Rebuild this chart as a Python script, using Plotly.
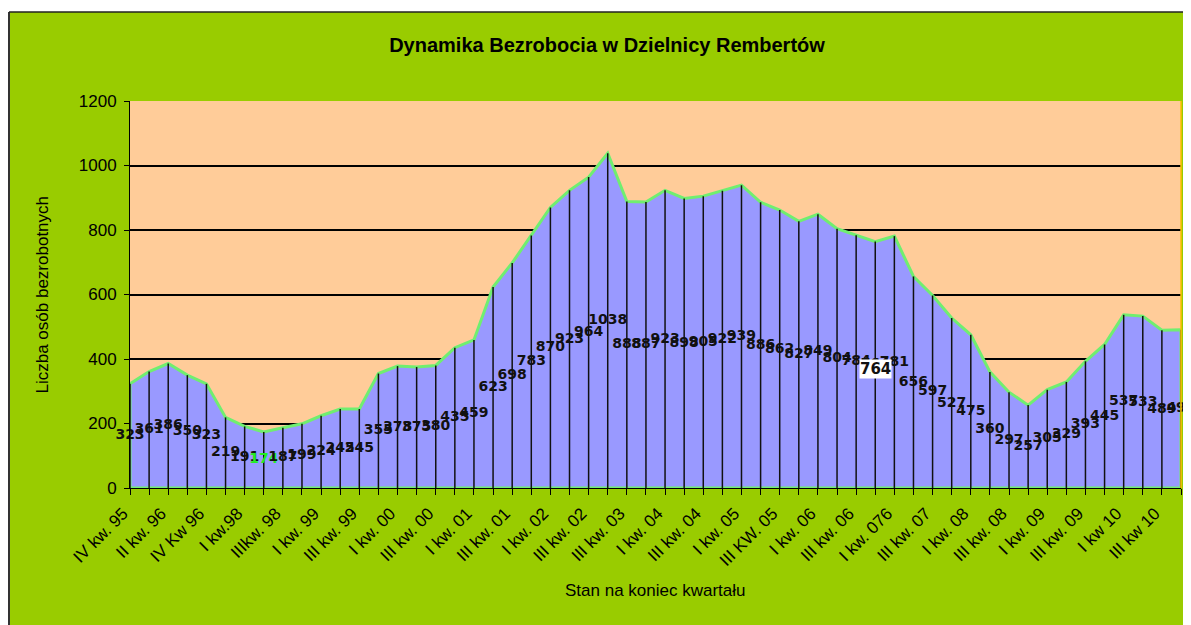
import plotly.graph_objects as go

# ---- data ----
categories = [
    "IV kw. 95", "I kw. 96", "II kw. 96", "III kw. 96", "IV Kw 96", "IV kw. 97",
    "I kw.98", "II kw. 98", "IIIkw. 98", "IV kw. 98", "I kw. 99", "II kw. 99",
    "III kw. 99", "IV kw. 99", "I kw. 00", "II kw. 00", "III kw. 00", "IV kw. 00",
    "I kw. 01", "II kw. 01", "III kw. 01", "IV kw. 01", "I kw. 02", "II kw. 02",
    "III kw. 02", "I kw. 03", "III kw. 03", "IV kw. 03", "I kw. 04", "II kw. 04",
    "III kw. 04", "IV kw. 04", "I kw. 05", "II kw. 05", "III KW. 05", "IV kw. 05",
    "I kw. 06", "II kw. 06", "III kw. 06", "IV kw. 06", "I kw. 076", "II kw. 07",
    "III kw. 07", "IV kw. 07", "I kw. 08", "II kw. 08", "III kw. 08", "IV kw. 08",
    "I kw. 09", "II kw. 09", "III kw. 09", "IV kw. 09", "I kw 10", "II kw 10",
    "III kw 10", "IV kw 10",
]
values = [
    323, 361, 386, 350, 323, 219, 191, 174, 187, 199, 224, 245, 245, 355,
    378, 375, 380, 435, 459, 623, 698, 783, 870, 923, 964, 1038, 888, 887,
    923, 898, 905, 922, 939, 886, 862, 827, 849, 804, 784, 764, 781, 656,
    597, 527, 475, 360, 297, 257, 305, 329, 393, 445, 537, 533, 489, 491,
]
y_ticks = [0, 200, 400, 600, 800, 1000, 1200]
green_label = "174"
boxed_label = "764"

title_text = "Dynamika Bezrobocia w Dzielnicy Rembertów"
x_title = "Stan na koniec kwartału"
y_title = "Liczba osób bezrobotnych"

# ---- geometry (page has an 8px body margin) ----
OFF = 8
W, H = 1191 - OFF, 625 - OFF
L = 130 - OFF
T = 101 - OFF
R = W - (1181 - OFF)
B = H - (488 - OFF)
pw, ph = W - L - R, H - T - B

def px_x(px):  # px in screenshot coords
    return (px - OFF - L) / pw

def px_y(py):
    return (H - B - (py - OFF)) / ph

n = len(values)
xs = list(range(n))

fig = go.Figure()

# area polygon (closed so the border runs all around)
fig.add_trace(go.Scatter(
    x=xs + [xs[-1], xs[0], xs[0]],
    y=values + [0, 0, values[0]],
    mode="lines",
    fill="toself",
    fillcolor="#9999FF",
    line=dict(color="#70EE70", width=3),
    hoverinfo="skip",
    showlegend=False,
))

# drop lines
fig.add_trace(go.Scatter(
    x=xs, y=values, mode="markers",
    marker=dict(size=1, color="rgba(0,0,0,0)"),
    error_y=dict(type="data", symmetric=False, array=[0] * n,
                 arrayminus=values, width=0, thickness=1.5, color="#111111"),
    hoverinfo="skip", showlegend=False,
))

# data labels
label_colors = ["#22EE22" if str(v) == green_label else "#111111" for v in values]
fig.add_trace(go.Scatter(
    x=xs, y=[v / 2 for v in values], mode="text",
    text=[str(v) for v in values],
    textposition="middle center",
    textfont=dict(family="DejaVu Sans", size=14, color=label_colors, weight="bold"),
    cliponaxis=False, hoverinfo="skip", showlegend=False,
))

annotations = []
for i, v in enumerate(values):
    if str(v) == boxed_label:
        annotations.append(dict(
            x=i, y=v / 2, xref="x", yref="y", text=str(v), showarrow=False,
            bgcolor="white", borderpad=0, yshift=-4,
            font=dict(family="DejaVu Sans", size=15, color="#111111", weight="bold"),
        ))

annotations.append(dict(
    x=0.5, y=px_y(590), xref="paper", yref="paper", text=x_title,
    showarrow=False, xanchor="center", yanchor="middle",
    font=dict(family="Arial, Liberation Sans", size=17, color="black"),
))
annotations.append(dict(
    x=px_x(42), y=0.5, xref="paper", yref="paper", text=y_title,
    showarrow=False, xanchor="center", yanchor="middle", textangle=-90,
    font=dict(family="Arial, Liberation Sans", size=17, color="black"),
))

shapes = [
    # white margins at top and left
    dict(type="rect", xref="paper", yref="paper", x0=px_x(-10), x1=px_x(1300),
         y0=px_y(12), y1=px_y(-10), fillcolor="white", line=dict(width=0), layer="below"),
    dict(type="rect", xref="paper", yref="paper", x0=px_x(-10), x1=px_x(9),
         y0=px_y(700), y1=px_y(-10), fillcolor="white", line=dict(width=0), layer="below"),
    # outer frame
    dict(type="line", xref="paper", yref="paper", x0=px_x(9), x1=px_x(9),
         y0=px_y(700), y1=px_y(12), line=dict(color="#333333", width=2)),
    dict(type="line", xref="paper", yref="paper", x0=px_x(9), x1=px_x(1300),
         y0=px_y(12), y1=px_y(12), line=dict(color="#222222", width=1.5)),
    # plot area right border
    dict(type="line", xref="paper", yref="paper", x0=1, x1=1, y0=0, y1=1,
         line=dict(color="#FFC000", width=1.5)),
]

fig.update_layout(
    width=W, height=H,
    margin=dict(l=L, r=R, t=T, b=B, autoexpand=False),
    paper_bgcolor="#99CC00",
    plot_bgcolor="#FFCC99",
    title=dict(text="<b>" + title_text + "</b>", xref="container", yref="container",
               x=(607 - OFF) / W, y=1 - (45 - OFF) / H, xanchor="center", yanchor="middle",
               font=dict(family="Arial, Liberation Sans", size=20, color="black")),
    showlegend=False,
    annotations=annotations,
    shapes=shapes,
    xaxis=dict(
        range=[0, n - 1],
        tickmode="array",
        tickvals=xs,
        ticktext=[c if i % 2 == 0 else "" for i, c in enumerate(categories)],
        tickangle=-45,
        ticklabelshift=-7,
        ticklabelstandoff=2,
        ticks="outside", ticklen=6, tickcolor="black", tickwidth=1,
        showgrid=False, zeroline=False,
        showline=True, linecolor="black", linewidth=1,
        tickfont=dict(family="Arial, Liberation Sans", size=17, color="black"),
    ),
    yaxis=dict(
        range=[0, 1200],
        tickmode="array", tickvals=y_ticks,
        ticks="outside", ticklen=5, tickcolor="black", tickwidth=1,
        ticklabelstandoff=4,
        showgrid=True, gridcolor="black", gridwidth=1.5,
        zeroline=False,
        showline=True, linecolor="black", linewidth=1,
        tickfont=dict(family="Arial, Liberation Sans", size=17, color="black"),
    ),
)

fig.write_html("out.html")
